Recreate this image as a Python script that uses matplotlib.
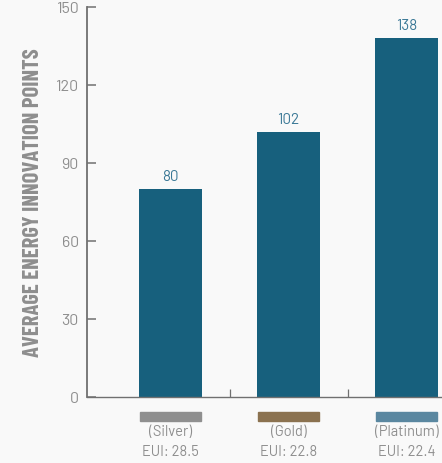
import matplotlib
matplotlib.use("Agg")
import matplotlib.pyplot as plt

# certification levels and their average energy innovation points
LEVELS = ["Silver", "Gold", "Platinum"]
POINTS = [80, 102, 138]
EUI = ["28.5", "22.8", "22.4"]
YTICKS = [0, 30, 60, 90, 120, 150]

BAR = "#17607d"
VALUE = "#3a7896"
GREY = "#8e8e8e"
AXIS = "#707070"
BG = "#f9f9f9"
SWATCH = ["#8f8f8f", "#8b7250", "#5a87a0"]

NARROW = ["Barlow Condensed", "DejaVu Sans"]
BODY = ["Barlow", "DejaVu Sans"]

fig = plt.figure(figsize=(4.42, 4.64), dpi=100, facecolor=BG)
ax = fig.add_axes([87 / 442, 1 - 398 / 464, 1 - 87 / 442, 390 / 464])
ax.set_facecolor(BG)

x = list(range(len(LEVELS)))
ax.bar(x, POINTS, width=0.53, color=BAR)
for i, v in enumerate(POINTS):
    ax.text(i, v + 2.3, f"{v}", ha="center", va="bottom", fontsize=11,
            color=VALUE, family=BODY)

ax.set_xlim(-0.708, 2.3)
ax.set_ylim(0, 150)
ax.set_yticks(YTICKS)
ax.set_yticklabels([str(t) for t in YTICKS], fontsize=11.5, color=GREY, family=BODY)
ax.tick_params(axis="y", direction="in", length=6.5, width=1.1, color=AXIS, pad=6)
ax.set_xticks([0.5, 1.5])
ax.set_xticklabels([])
ax.tick_params(axis="x", direction="in", length=6, width=0.9, color=AXIS)

for s in ("top", "right"):
    ax.spines[s].set_visible(False)
ax.spines["left"].set_color(AXIS)
ax.spines["left"].set_linewidth(1.3)
ax.spines["bottom"].set_color(AXIS)
ax.spines["bottom"].set_linewidth(1.0)

ax.set_ylabel("AVERAGE ENERGY INNOVATION POINTS", fontsize=16.3, color=GREY,
              family=NARROW, weight="bold", labelpad=9)

# colour keys and EUI notes under each bar
tr = ax.get_xaxis_transform()
for i, (lvl, eui) in enumerate(zip(LEVELS, EUI)):
    ax.add_patch(plt.Rectangle((i - 0.26, -0.038), 0.52, -0.023, transform=tr,
                               color=SWATCH[i], clip_on=False))
    ax.text(i, -0.088, f"({lvl})", transform=tr, ha="center", va="center",
            fontsize=10.5, color=GREY, family=BODY)
    ax.text(i, -0.139, f"EUI: {eui}", transform=tr, ha="center", va="center",
            fontsize=10.5, color=GREY, family=BODY)

fig.savefig("out.png", dpi=100, facecolor=BG)
